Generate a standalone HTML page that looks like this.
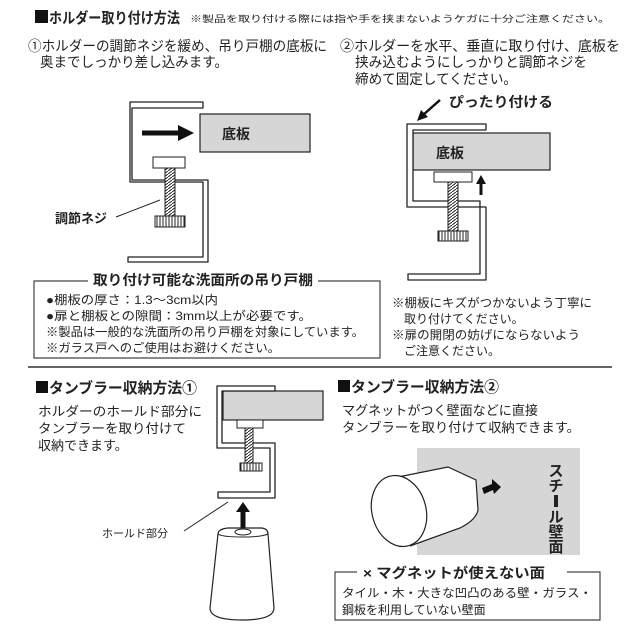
<!DOCTYPE html>
<html><head><meta charset="utf-8"><style>
html,body{margin:0;padding:0;background:#fff}
svg{display:block}
text{font-family:"Liberation Sans","Noto Sans CJK JP",sans-serif;fill:#222}
.b{font-weight:bold}
</style></head><body>
<svg width="640" height="640" viewBox="0 0 640 640" xmlns="http://www.w3.org/2000/svg">
<defs>
<pattern id="th" width="4" height="3" patternUnits="userSpaceOnUse"><rect width="4" height="3" fill="#fff"/><line x1="0" y1="3" x2="4" y2="0" stroke="#222" stroke-width="1"/></pattern>
<pattern id="kn" width="3" height="4" patternUnits="userSpaceOnUse"><rect width="3" height="4" fill="#fff"/><line x1="1" y1="0" x2="1" y2="4" stroke="#222" stroke-width="1"/></pattern>
</defs>
<!-- header -->
<rect x="35" y="10" width="13" height="13" fill="#111"/>
<text x="49" y="23" font-size="15" class="b" textLength="131" lengthAdjust="spacingAndGlyphs">ホルダー取り付け方法</text>
<text x="190" y="22" font-size="9" textLength="420" lengthAdjust="spacingAndGlyphs">※製品を取り付ける際には指や手を挟まないようケガに十分ご注意ください。</text>
<text x="28" y="51" font-size="14" textLength="299" lengthAdjust="spacingAndGlyphs">①ホルダーの調節ネジを緩め、吊り戸棚の底板に</text>
<text x="40" y="67" font-size="14" textLength="188" lengthAdjust="spacingAndGlyphs">奥までしっかり差し込みます。</text>
<text x="340" y="51" font-size="14" textLength="280" lengthAdjust="spacingAndGlyphs">②ホルダーを水平、垂直に取り付け、底板を</text>
<text x="355" y="67" font-size="14" textLength="232" lengthAdjust="spacingAndGlyphs">挟み込むようにしっかりと調節ネジを</text>
<text x="355" y="84" font-size="14" textLength="162" lengthAdjust="spacingAndGlyphs">締めて固定してください。</text>

<!-- clamp 1 -->
<rect x="200" y="114" width="110" height="38" fill="#d6d6d6" stroke="#222" stroke-width="1.2"/>
<text x="222" y="139" font-size="14" class="b">底板</text>
<path d="M203 102 H130 V182 H203 V257 H128 V262 H208 V180 H132 V108 H203 Z" fill="#fff" stroke="#222" stroke-width="1.3" stroke-linejoin="round"/>
<line x1="142" y1="133" x2="180" y2="133" stroke="#111" stroke-width="5"/>
<polygon points="178,125 194,133 178,141" fill="#111"/>
<rect x="153" y="157" width="32" height="11" fill="#fff" stroke="#222"/>
<rect x="165" y="168" width="10" height="48" fill="url(#th)" stroke="#222"/>
<rect x="155" y="216" width="30" height="11" fill="url(#kn)" stroke="#222"/>
<text x="55" y="223" font-size="13" class="b">調節ネジ</text>
<line x1="116" y1="217" x2="160" y2="200" stroke="#222"/>

<!-- box 1 -->
<path d="M88 281 H34 V358 H380 V281 H318" fill="none" stroke="#444" stroke-width="1.2"/>
<text x="93" y="285" font-size="14" class="b" textLength="220" lengthAdjust="spacingAndGlyphs">取り付け可能な洗面所の吊り戸棚</text>
<text x="46" y="304" font-size="12" textLength="172" lengthAdjust="spacingAndGlyphs">●棚板の厚さ：1.3～3cm以内</text>
<text x="46" y="320" font-size="12" textLength="266" lengthAdjust="spacingAndGlyphs">●扉と棚板との隙間：3mm以上が必要です。</text>
<text x="46" y="336" font-size="12" textLength="318" lengthAdjust="spacingAndGlyphs">※製品は一般的な洗面所の吊り戸棚を対象にしています。</text>
<text x="46" y="352" font-size="12" textLength="234" lengthAdjust="spacingAndGlyphs">※ガラス戸へのご使用はお避けください。</text>

<!-- clamp 2 -->
<rect x="413" y="133" width="137" height="37" fill="#d6d6d6" stroke="#222" stroke-width="1.2"/>
<text x="436" y="158" font-size="14" class="b">底板</text>
<path d="M486 124 H407 V207 H486 V280 H408 V274 H480 V201 H413 V130 H486 Z" fill="#fff" stroke="#222" stroke-width="1.3" stroke-linejoin="round"/>
<rect x="434" y="172" width="38" height="10" fill="#fff" stroke="#222"/>
<rect x="448" y="182" width="10" height="50" fill="url(#th)" stroke="#222"/>
<rect x="438" y="231" width="30" height="10" fill="url(#kn)" stroke="#222"/>
<line x1="481" y1="195" x2="481" y2="183" stroke="#111" stroke-width="3"/>
<polygon points="476,184 481,175 486,184" fill="#111"/>
<text x="449" y="107" font-size="14" class="b" textLength="104" lengthAdjust="spacingAndGlyphs">ぴったり付ける</text>
<line x1="440" y1="100" x2="423" y2="115" stroke="#111" stroke-width="2.5"/>
<polygon points="417,121 421,110 428,117" fill="#111"/>
<text x="392" y="307" font-size="12" textLength="200" lengthAdjust="spacingAndGlyphs">※棚板にキズがつかないよう丁寧に</text>
<text x="404" y="323" font-size="12">取り付けてください。</text>
<text x="392" y="339" font-size="12" textLength="188" lengthAdjust="spacingAndGlyphs">※扉の開閉の妨げにならないよう</text>
<text x="404" y="355" font-size="12">ご注意ください。</text>

<line x1="28" y1="367" x2="612" y2="367" stroke="#333" stroke-width="1.5"/>

<!-- bottom left -->
<rect x="36" y="381" width="12" height="12" fill="#111"/>
<text x="49" y="393" font-size="15" class="b" textLength="148" lengthAdjust="spacingAndGlyphs">タンブラー収納方法①</text>
<text x="38" y="416" font-size="13" textLength="164" lengthAdjust="spacingAndGlyphs">ホルダーのホールド部分に</text>
<text x="38" y="433" font-size="13" textLength="148" lengthAdjust="spacingAndGlyphs">タンブラーを取り付けて</text>
<text x="38" y="450" font-size="13">収納できます。</text>
<rect x="223" y="391" width="100" height="29" fill="#d6d6d6" stroke="#222" stroke-width="1.2"/>
<path d="M275 386 H217 V448 H270 V492 H218 V498 H275 V443 H222 V391 H275 Z" fill="#fff" stroke="#222" stroke-width="1.3" stroke-linejoin="round"/>
<rect x="237" y="420" width="26" height="8" fill="#fff" stroke="#222"/>
<rect x="245" y="428" width="8" height="36" fill="url(#th)" stroke="#222"/>
<rect x="240" y="463" width="22" height="8" fill="url(#kn)" stroke="#222"/>
<line x1="243" y1="528" x2="243" y2="511" stroke="#111" stroke-width="5"/>
<polygon points="236,512 243,502 250,512" fill="#111"/>
<path d="M218 534 Q218 529 228 528 L262 528 Q268 529 268 534 L274 608 Q274 620 242 620 Q210 620 210 608 Z" fill="#fff" stroke="#222" stroke-width="1.2"/>
<path d="M218 534 Q222 537 242 537 Q262 537 268 534" stroke="#222" fill="none"/>
<ellipse cx="243" cy="532" rx="8" ry="3" fill="#fff" stroke="#222"/>
<text x="102" y="537" font-size="11">ホールド部分</text>
<line x1="184" y1="531" x2="228" y2="502" stroke="#222"/>

<!-- bottom right -->
<rect x="338" y="380" width="12" height="12" fill="#111"/>
<text x="351" y="392" font-size="15" class="b" textLength="148" lengthAdjust="spacingAndGlyphs">タンブラー収納方法②</text>
<text x="342" y="415" font-size="13" textLength="196" lengthAdjust="spacingAndGlyphs">マグネットがつく壁面などに直接</text>
<text x="342" y="432" font-size="13" textLength="238" lengthAdjust="spacingAndGlyphs">タンブラーを取り付けて収納できます。</text>
<rect x="417" y="448" width="163" height="107" fill="#d6d6d6"/>
<path d="M393 478 L448 467 L476 480 L478 510 Q476 520 460 528 L410 546 L400 546 L380 480 Z" fill="#fff" stroke="none"/>
<path d="M393 478 L448 467 L476 480 L478 510 Q476 520 460 528 L410 546" fill="none" stroke="#222" stroke-width="1.2"/>
<ellipse cx="399" cy="511" rx="27" ry="36" transform="rotate(-15 399 511)" fill="#fff" stroke="#222" stroke-width="1.2"/>
<polygon points="482,488 492,484 492,479 501,487 494,494 493,490 484,494" fill="#111"/>
<g font-size="15">
<text x="556" y="476" text-anchor="middle" class="b">ス</text>
<text x="556" y="491" text-anchor="middle" class="b">チ</text>
<rect x="554" y="495" width="4" height="12" fill="#222"/>
<text x="556" y="522" text-anchor="middle" class="b">ル</text>
<text x="556" y="537" text-anchor="middle" class="b">壁</text>
<text x="556" y="552" text-anchor="middle" class="b">面</text>
</g>
<path d="M357 572 H335 V620 H600 V572 H567" fill="none" stroke="#444" stroke-width="1.2"/>
<text x="363" y="578" font-size="14" class="b" textLength="182" lengthAdjust="spacingAndGlyphs">× マグネットが使えない面</text>
<text x="342" y="597" font-size="12" textLength="250" lengthAdjust="spacingAndGlyphs">タイル・木・大きな凹凸のある壁・ガラス・</text>
<text x="342" y="614" font-size="12">鋼板を利用していない壁面</text>
</svg>
</body></html>
